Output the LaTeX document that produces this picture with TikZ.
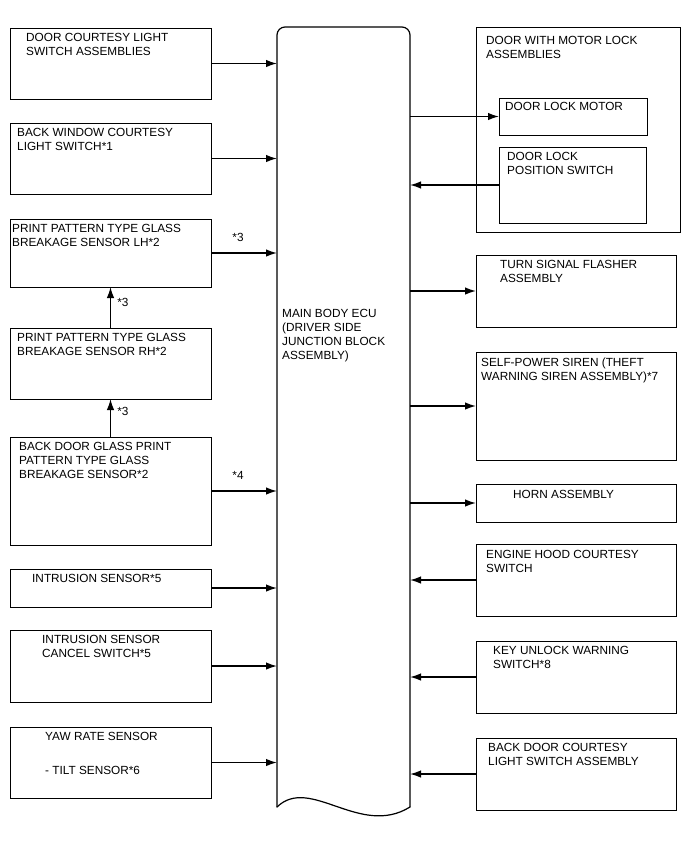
\documentclass[tikz,border=0pt]{standalone}
\usepackage{fontspec}
\setmainfont{Liberation Sans}
\usetikzlibrary{arrows.meta, positioning}
\tikzset{
  unit/.style = {rectangle, draw=black, line width=1pt, inner sep=0pt, outer sep=0pt, anchor=north west, label distance=0pt},
  caption/.style = {anchor=north west, inner sep=0pt, align=left, font=\fontsize{11.8}{14}\selectfont},
  line/.style = {-{Latex[length=11pt, width=7.5pt]}, line width=1.5pt},
  note/.style = {inner sep=0pt, font=\fontsize{11.8}{14}\selectfont},
  ecuframe/.style = {draw=black, line width=1.2pt, line cap=round}
}

\begin{document}
\begin{tikzpicture}[x=1pt, y=-1pt]
\useasboundingbox (0,0) rectangle (688,852);

% Main body ECU
\node[rectangle, inner sep=0pt, outer sep=0pt, anchor=north west, minimum width=133pt, minimum height=780pt] (ecu) at (277,27) {};
\draw[ecuframe, rounded corners=8pt] (ecu.south west) |- (ecu.north east) -- (ecu.south east);
\draw[ecuframe] (ecu.south east) .. controls ([shift={(-50,31)}]ecu.south east) and ([shift={(33,-32)}]ecu.south west) .. (ecu.south west);
\node[caption] (ecutext) at (282,309) {MAIN BODY ECU\\(DRIVER SIDE\\JUNCTION BLOCK\\ASSEMBLY)};

% Left column
\node[unit, minimum width=201pt, minimum height=71pt, label={[caption, xshift=16pt, yshift=-5.5pt]north west:DOOR COURTESY LIGHT\\SWITCH ASSEMBLIES}] (dcl) at (10,28) {};
\node[unit, minimum width=201pt, minimum height=71pt, below=24pt of dcl, label={[caption, xshift=7pt, yshift=-5.5pt]north west:BACK WINDOW COURTESY\\LIGHT SWITCH*1}] (bwc) {};
\node[unit, minimum width=201pt, minimum height=68pt, below=25pt of bwc, label={[caption, xshift=2pt, yshift=-5.5pt]north west:PRINT PATTERN TYPE GLASS\\BREAKAGE SENSOR LH*2}] (lh) {};
\node[unit, minimum width=201pt, minimum height=71pt, below=41pt of lh, label={[caption, xshift=7pt, yshift=-5.5pt]north west:PRINT PATTERN TYPE GLASS\\BREAKAGE SENSOR RH*2}] (rh) {};
\node[unit, minimum width=201pt, minimum height=108pt, below=38pt of rh, label={[caption, xshift=9pt, yshift=-5.5pt]north west:BACK DOOR GLASS PRINT\\PATTERN TYPE GLASS\\BREAKAGE SENSOR*2}] (bdg) {};
\node[unit, minimum width=201pt, minimum height=38pt, below=24pt of bdg, label={[caption, xshift=22pt, yshift=-5.5pt]north west:INTRUSION SENSOR*5}] (intr) {};
\node[unit, minimum width=201pt, minimum height=72pt, below=23pt of intr, label={[caption, xshift=32pt, yshift=-5.5pt]north west:INTRUSION SENSOR\\CANCEL SWITCH*5}] (canc) {};
\node[unit, minimum width=201pt, minimum height=71pt, below=25pt of canc, label={[caption, xshift=35pt, yshift=-5.5pt]north west:YAW RATE SENSOR\\[20pt]- TILT SENSOR*6}] (yaw) {};

% Right column
\node[unit, minimum width=204pt, minimum height=205pt, label={[caption, xshift=10pt, yshift=-9pt]north west:DOOR WITH MOTOR LOCK\\ASSEMBLIES}] (doorgrp) at (476,27) {};
\node[unit, minimum width=148pt, minimum height=37pt, label={[caption, xshift=6pt, yshift=-4pt]north west:DOOR LOCK MOTOR}] (motor) at (499,98) {};
\node[unit, minimum width=147pt, minimum height=76pt, label={[caption, xshift=8pt, yshift=-5pt]north west:DOOR LOCK\\POSITION SWITCH}] (swch) at (499,147) {};
\node[unit, minimum width=200pt, minimum height=72pt, below=23pt of doorgrp.south west, anchor=north west, label={[caption, xshift=24pt, yshift=-5pt]north west:TURN SIGNAL FLASHER\\ASSEMBLY}] (turn) {};
\node[unit, minimum width=200pt, minimum height=108pt, below=25pt of turn, label={[caption, xshift=5pt, yshift=-6pt]north west:SELF-POWER SIREN (THEFT\\WARNING SIREN ASSEMBLY)*7}] (siren) {};
\node[unit, minimum width=200pt, minimum height=38pt, below=24pt of siren, label={[caption, xshift=37pt, yshift=-6pt]north west:HORN ASSEMBLY}] (horn) {};
\node[unit, minimum width=200pt, minimum height=72pt, below=22pt of horn, label={[caption, xshift=10pt, yshift=-6pt]north west:ENGINE HOOD COURTESY\\SWITCH}] (hood) {};
\node[unit, minimum width=200pt, minimum height=72pt, below=25pt of hood, label={[caption, xshift=17pt, yshift=-5pt]north west:KEY UNLOCK WARNING\\SWITCH*8}] (keysw) {};
\node[unit, minimum width=200pt, minimum height=72pt, below=25pt of keysw, label={[caption, xshift=12pt, yshift=-5pt]north west:BACK DOOR COURTESY\\LIGHT SWITCH ASSEMBLY}] (bdcl) {};

% Arrows into the ECU
\draw[line] (dcl.east) -- (dcl.east -| ecu.west);
\draw[line] (bwc.east) -- (bwc.east -| ecu.west);
\draw[line] (lh.east) -- (lh.east -| ecu.west) node[note, pos=0.41, above=11pt] {*3};
\draw[line] (rh.north) -- (lh.south) node[note, pos=0.63, right=6pt] {*3};
\draw[line] (bdg.north) -- (rh.south) node[note, pos=0.66, right=6pt] {*3};
\draw[line] (bdg.east) -- (bdg.east -| ecu.west) node[note, pos=0.41, above=11pt] {*4};
\draw[line] (intr.east) -- (intr.east -| ecu.west);
\draw[line] (canc.east) -- (canc.east -| ecu.west);
\draw[line] (yaw.east) -- (yaw.east -| ecu.west);

% Arrows out of the ECU
\draw[line] (motor.west -| ecu.east) -- (motor.west);
\draw[line] (swch.west) -- (swch.west -| ecu.east);
\draw[line] (turn.west -| ecu.east) -- (turn.west);
\draw[line] (siren.west -| ecu.east) -- (siren.west);
\draw[line] (horn.west -| ecu.east) -- (horn.west);
\draw[line] (hood.west) -- (hood.west -| ecu.east);
\draw[line] (keysw.west) -- (keysw.west -| ecu.east);
\draw[line] (bdcl.west) -- (bdcl.west -| ecu.east);

\end{tikzpicture}
\end{document}
